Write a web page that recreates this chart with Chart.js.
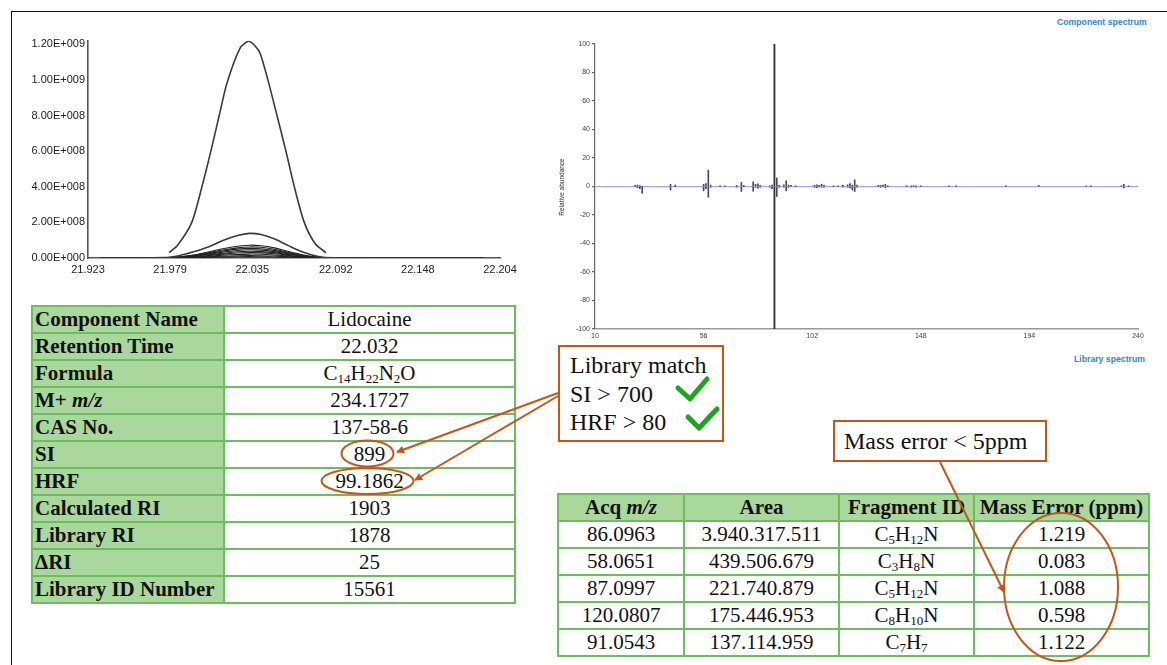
<!DOCTYPE html>
<html><head><meta charset="utf-8">
<script src="https://cdn.jsdelivr.net/npm/chart.js@4.4.0/dist/chart.umd.min.js"></script>
<style>
html,body{margin:0;padding:0;background:#fff;}
#root{position:relative;width:1167px;height:665px;overflow:hidden;background:#fff;font-family:"Liberation Serif","Times New Roman",serif;}
.abs{position:absolute;}
#frameTop{left:11px;top:11px;width:1160px;height:0;border-top:1.6px solid #111;}
#frameLeft{left:11px;top:11px;width:0;height:660px;border-left:1.6px solid #111;}
table{border-collapse:collapse;position:absolute;table-layout:fixed;}
td{border:2px solid #6cbd5f;height:25px;padding:0 2px;font-size:21px;line-height:23px;white-space:nowrap;overflow:hidden;color:#111;}
td.h{background:#a9d79c;font-weight:bold;}
td.c{text-align:center;}
sub{font-size:0.62em;vertical-align:-0.22em;line-height:0;}
.box{border:2.5px solid #c4561a;background:#fff;font-size:24px;color:#111;box-sizing:border-box;}
.blue{font-family:"Liberation Sans",Arial,sans-serif;font-weight:bold;font-size:8.7px;color:#2f86d3;}
</style></head>
<body><div id="root">
<div id="frameTop" class="abs"></div>
<div id="frameLeft" class="abs"></div>

<canvas id="chromo" class="abs" width="520" height="255" style="left:20px;top:30px;width:520px;height:255px"></canvas>
<canvas id="spec" class="abs" width="620" height="320" style="left:540px;top:30px;width:620px;height:320px"></canvas>
<div class="abs blue" style="left:1057px;top:17px;">Component spectrum</div>
<div class="abs blue" style="left:1074px;top:354px;">Library spectrum</div>
<div class="abs" style="left:532px;top:183px;width:60px;text-align:center;font-family:'Liberation Sans',Arial,sans-serif;font-size:6.5px;color:#333;transform:rotate(-90deg);transform-origin:30px 4px;">Relative abundance</div>

<table id="tblLeft" style="left:31px;top:305px;width:483px;">
<colgroup><col style="width:192px"><col style="width:291px"></colgroup>
<tbody id="tbLeft"></tbody></table>

<table id="tblRight" style="left:557px;top:493px;width:591px;">
<colgroup><col style="width:126px"><col style="width:155px"><col style="width:135px"><col style="width:175px"></colgroup>
<tbody id="tbRight"></tbody></table>

<div class="abs box" style="left:558px;top:345px;width:166px;height:97px;padding:4px 0 0 10px;line-height:28.5px;">Library match<br>SI &gt; 700<br>HRF &gt; 80</div>
<div class="abs box" style="left:833px;top:420px;width:214px;height:42px;padding:0 0 0 9px;line-height:38px;">Mass error &lt; 5ppm</div>

<svg class="abs" style="left:0;top:0;pointer-events:none" width="1167" height="665">
<defs><marker id="ah" markerWidth="8" markerHeight="8" refX="7" refY="4" orient="auto" markerUnits="userSpaceOnUse"><path d="M0,0 L8,4 L0,8 z" fill="#c4561a"/></marker></defs>
<g stroke="#c4561a" stroke-width="2" fill="none">
<line x1="558" y1="393" x2="397" y2="452" marker-end="url(#ah)"/>
<line x1="558" y1="396" x2="415" y2="480" marker-end="url(#ah)"/>
<line x1="940" y1="462" x2="1004" y2="592" marker-end="url(#ah)"/>
<ellipse cx="367.5" cy="453.5" rx="26" ry="13"/>
<ellipse cx="367.5" cy="481" rx="46" ry="13"/>
<ellipse cx="1061" cy="587" rx="57" ry="74"/>
</g>
<g stroke="#1ea41e" stroke-width="5" fill="none" stroke-linecap="round" stroke-linejoin="round">
<polyline points="678,388 690,399 707,379"/>
<polyline points="688,417 699,428 717,409"/>
</g>
</svg>
</div>
<script>
// ---------- Chromatogram data ----------
const chromoXTicks = [21.923, 21.979, 22.035, 22.092, 22.148, 22.204];
const chromoYTicks = [0, 2e8, 4e8, 6e8, 8e8, 1.0e9, 1.2e9];
const mainTime = [21.9783, 21.9840, 21.9938, 22.0007, 22.0068, 22.0125, 22.0177, 22.0268, 22.0325, 22.0370, 22.0405, 22.0457, 22.0519, 22.0580, 22.0637, 22.0705, 22.0780, 22.0853];
const mainIntensity = [0.03e9, 0.07e9, 0.20e9, 0.40e9, 0.60e9, 0.80e9, 0.98e9, 1.18e9, 1.217e9, 1.19e9, 1.147e9, 1.00e9, 0.80e9, 0.60e9, 0.40e9, 0.20e9, 0.08e9, 0.03e9];
const traceTime = [21.932, 21.975, 21.985, 21.995, 22.005, 22.015, 22.025, 22.033, 22.041, 22.050, 22.060, 22.070, 22.080, 22.090, 22.193];
// intensities in units of 1e8
const trace2 = [0, 0.02, 0.13, 0.35, 0.62, 0.98, 1.26, 1.38, 1.32, 1.08, 0.68, 0.32, 0.08, 0.01, 0];
const trace3 = [0, 0.01, 0.06, 0.17, 0.34, 0.52, 0.66, 0.72, 0.69, 0.57, 0.36, 0.17, 0.04, 0.01, 0];
const trace4 = [0, 0.01, 0.05, 0.15, 0.29, 0.45, 0.57, 0.62, 0.60, 0.49, 0.31, 0.14, 0.04, 0.01, 0];
const trace5 = [0, 0.01, 0.04, 0.13, 0.25, 0.39, 0.50, 0.54, 0.52, 0.43, 0.27, 0.12, 0.03, 0, 0];
const trace6 = [0, 0, 0.04, 0.11, 0.22, 0.33, 0.42, 0.46, 0.44, 0.36, 0.23, 0.11, 0.03, 0, 0];
const trace7 = [0, 0, 0.03, 0.09, 0.18, 0.27, 0.35, 0.38, 0.36, 0.30, 0.19, 0.09, 0.02, 0, 0];
const trace8 = [0, 0, 0.02, 0.07, 0.14, 0.22, 0.28, 0.30, 0.29, 0.24, 0.15, 0.07, 0.02, 0, 0];
const trace9 = [0, 0, 0.02, 0.05, 0.10, 0.16, 0.20, 0.22, 0.21, 0.17, 0.11, 0.05, 0.01, 0, 0];
const trace10 = [0, 0, 0.01, 0.03, 0.07, 0.10, 0.13, 0.14, 0.13, 0.11, 0.07, 0.03, 0.01, 0, 0];
const trace11 = [0, 0, 0.01, 0.02, 0.03, 0.05, 0.07, 0.08, 0.07, 0.06, 0.04, 0.02, 0, 0, 0];

// ---------- Spectrum data ----------
const specXTicks = [10, 56, 102, 148, 194, 240];
const specMz =      [27, 28, 29, 30, 42, 44, 56, 57, 58, 59, 63, 65, 70, 72, 73, 77, 78, 79, 80, 84, 85, 86, 87, 88, 90, 91, 92, 93, 95, 103, 104, 105, 106, 107, 111, 113, 115, 117, 118, 119, 120, 121, 130, 131, 132, 133, 134, 142, 144, 145, 146, 148, 160, 163, 184, 198, 218, 220, 233, 234, 236];
const componentAb = [0.8, 1.0, 0.6, 0, 1.5, 1.0, 1.5, 2.0, 11.5, 1.0, 0.5, 0.5, 0.8, 2.8, 0.8, 3.3, 1.5, 1.8, 0.8, 0.5, 1.0, 100, 6.0, 0.8, 1.2, 4.0, 1.0, 0.8, 0.5, 0.8, 1.2, 0.8, 1.6, 0.8, 0.5, 0.5, 0.8, 1.2, 2.0, 1.0, 4.7, 1.0, 0.8, 0.8, 1.0, 1.5, 0.5, 0.5, 0.5, 0.5, 0.5, 0.5, 0.5, 0.5, 0.6, 0.6, 0.5, 0.5, 0.5, 1.5, 0.5];
const libraryAb =   [0, -0.8, -1.5, -4.8, -2.5, 0, -3.0, -1.5, -7.5, -0.5, 0, 0, -0.5, -3.5, 0, -3.3, -0.5, -1.2, -0.5, -0.5, -1.5, -100, -7.0, -0.5, -0.5, -3.0, -0.5, 0, 0, -0.5, -0.8, 0, -0.5, -0.5, 0, 0, -0.5, -0.5, -1.0, -2.5, -3.5, -0.5, 0, -0.5, 0, -0.8, 0, 0, -0.5, 0, -0.5, 0, 0, 0, 0, 0, 0, 0, 0, -1.0, 0];

// ---------- Tables ----------
const infoLabels = ['Component Name', 'Retention Time', 'Formula', 'M+ <i>m/z</i>', 'CAS No.', 'SI', 'HRF', 'Calculated RI', 'Library RI', '\u0394RI', 'Library ID Number'];
const infoValues = ['Lidocaine', '22.032', 'C<sub>14</sub>H<sub>22</sub>N<sub>2</sub>O', '234.1727', '137-58-6', '899', '99.1862', '1903', '1878', '25', '15561'];
const fragHeaders = ['Acq <i>m/z</i>', 'Area', 'Fragment ID', 'Mass Error (ppm)'];
const fragMz = ['86.0963', '58.0651', '87.0997', '120.0807', '91.0543'];
const fragArea = ['3.940.317.511', '439.506.679', '221.740.879', '175.446.953', '137.114.959'];
const fragId = ['C<sub>5</sub>H<sub>12</sub>N', 'C<sub>3</sub>H<sub>8</sub>N', 'C<sub>5</sub>H<sub>12</sub>N', 'C<sub>8</sub>H<sub>10</sub>N', 'C<sub>7</sub>H<sub>7</sub>'];
const fragErr = ['1.219', '0.083', '1.088', '0.598', '1.122'];

let lh = '';
infoLabels.forEach((l, i) => { lh += `<tr><td class="h">${l}</td><td class="c">${infoValues[i]}</td></tr>`; });
document.getElementById('tbLeft').innerHTML = lh;
let rh = '<tr>' + fragHeaders.map(h => `<td class="h c">${h}</td>`).join('') + '</tr>';
fragMz.forEach((m, i) => { rh += `<tr><td class="c">${m}</td><td class="c">${fragArea[i]}</td><td class="c">${fragId[i]}</td><td class="c">${fragErr[i]}</td></tr>`; });
document.getElementById('tbRight').innerHTML = rh;

// ---------- Chart 1: chromatogram ----------
function fmtE(v) {
  const s = v.toExponential(2).split('e');
  const n = parseInt(s[1], 10);
  return s[0] + 'E' + (n < 0 ? '-' : '+') + String(Math.abs(n)).padStart(3, '0');
}
const smallTraces = [trace2, trace3, trace4, trace5, trace6, trace7, trace8, trace9, trace10, trace11];
const chromoSets = [{
  data: mainTime.map((t, i) => ({x: t, y: mainIntensity[i]})),
  borderColor: '#3a3a3a', borderWidth: 1.6, pointRadius: 0, tension: 0.25, fill: false
}];
smallTraces.forEach((tr, k) => {
  chromoSets.push({
    data: traceTime.map((t, i) => ({x: t, y: tr[i] * 1e8})),
    borderColor: k === 0 ? '#3a3a3a' : '#222', borderWidth: k === 0 ? 1.6 : 1.1, pointRadius: 0, tension: 0.3, fill: false
  });
});
const tickFontS = {family: 'Liberation Sans, Arial, sans-serif', size: 11};
new Chart(document.getElementById('chromo'), {
  type: 'line',
  data: {datasets: chromoSets},
  options: {
    responsive: false, animation: false, devicePixelRatio: 1,
    layout: {padding: {top: 10.7, right: 40, left: 0, bottom: 0}},
    plugins: {legend: {display: false}, tooltip: {enabled: false}},
    scales: {
      x: {
        type: 'linear', min: 21.923, max: 22.204,
        afterBuildTicks: s => { s.ticks = chromoXTicks.map(v => ({value: v})); },
        afterFit: s => { s.height = 27; },
        grid: {display: false, drawTicks: false},
        border: {display: true, color: '#555', width: 1.6},
        ticks: {font: tickFontS, color: '#222', padding: 5, maxRotation: 0, autoSkip: false, callback: v => v.toFixed(3)}
      },
      y: {
        min: 0, max: 1.22e9,
        afterBuildTicks: s => { s.ticks = chromoYTicks.map(v => ({value: v})); },
        afterFit: s => { s.width = 68; },
        grid: {display: false, drawTicks: false},
        border: {display: true, color: '#555', width: 1.6},
        ticks: {font: tickFontS, color: '#222', padding: 3, callback: v => fmtE(v)}
      }
    }
  }
});

// ---------- Chart 2: spectrum ----------
const tickFontT = {family: 'Liberation Sans, Arial, sans-serif', size: 7};
const isBase = v => Math.abs(v) >= 50;
const mkSet = (arr, big) => ({
  data: specMz.map((m, i) => ({x: m, y: arr[i]})).filter(p => isBase(p.y) === big),
  backgroundColor: big ? '#333' : '#4a4a4a', barThickness: big ? 1.2 : 1, grouped: false
});
new Chart(document.getElementById('spec'), {
  type: 'bar',
  data: {datasets: [mkSet(componentAb, false), mkSet(libraryAb, false), mkSet(componentAb, true), mkSet(libraryAb, true)]},
  options: {
    responsive: false, animation: false, devicePixelRatio: 1,
    layout: {padding: {top: 14, right: 22, left: 0, bottom: 0}},
    plugins: {legend: {display: false}, tooltip: {enabled: false}},
    scales: {
      x: {
        type: 'linear', min: 10, max: 240, offset: false,
        afterBuildTicks: s => { s.ticks = specXTicks.map(v => ({value: v})); },
        afterFit: s => { s.height = 21; },
        grid: {display: false, drawTicks: false, offset: false},
        border: {display: true, color: '#999', width: 1.5},
        ticks: {font: tickFontT, color: '#444', padding: 3, maxRotation: 0, autoSkip: false}
      },
      y: {
        min: -100, max: 100,
        ticks: {stepSize: 20, font: tickFontT, color: '#444', padding: 2},
        afterFit: s => { s.width = 55; },
        grid: {display: true, drawOnChartArea: true, color: c => (c.tick && c.tick.value === 0) ? '#a6a6f0' : 'rgba(0,0,0,0)', lineWidth: 1.2, tickLength: 3, tickColor: '#666'},
        border: {display: true, color: '#666', width: 1.2}
      }
    }
  }
});
</script>
</body></html>
